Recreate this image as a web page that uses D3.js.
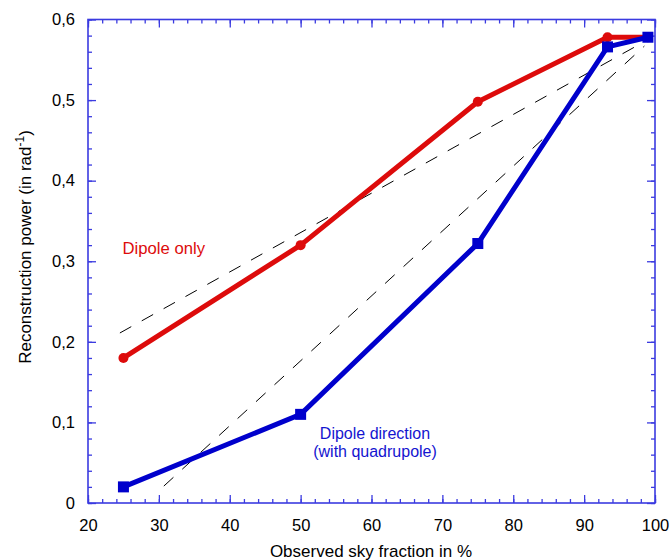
<!DOCTYPE html>
<html>
<head>
<meta charset="utf-8">
<script src="https://cdn.jsdelivr.net/npm/d3@7"></script>
<style>
  html, body { margin: 0; padding: 0; background: #fff; }
  svg { display: block; font-family: "Liberation Sans", Arial, Helvetica, sans-serif; }
</style>
</head>
<body>
<svg id="chart" width="670" height="560"></svg>
<script>
// ---- data ----
const skyFraction = [25, 50, 75, 93.3, 99];
const dipoleOnly = [0.18, 0.32, 0.498, 0.578, 0.578];
const dipoleDirection = [0.02, 0.11, 0.322, 0.566, 0.578];
const fitDipoleOnlyX = [24.5, 99];
const fitDipoleOnlyY = [0.211, 0.575];
const fitDirectionX = [30.7, 98.5];
const fitDirectionY = [0.021, 0.567];
const xTicks = [20, 30, 40, 50, 60, 70, 80, 90, 100];
const yTicks = [0, 0.1, 0.2, 0.3, 0.4, 0.5, 0.6];
const xMinorTicks = d3.range(20, 100.01, 2);
const yMinorTicks = d3.range(0, 0.6001, 0.02);

// ---- layout ----
const svg = d3.select("#chart");
const pL = 88, pR = 655, pT = 19.5, pB = 503;
const x = d3.scaleLinear().domain([20, 100]).range([pL, pR]);
const y = d3.scaleLinear().domain([0, 0.6]).range([pB, pT]);
const axisColor = "#3b3be0";
const red = "#dd0b0b";
const blue = "#0000cc";
const fmtY = d => d === 0 ? "0" : d.toFixed(1).replace(".", ",");

function styleAxis(g, showLabels, size) {
  g.select(".domain").remove();
  g.selectAll(".tick line").attr("stroke", axisColor).attr("stroke-width", 1.3);
  if (!showLabels) g.selectAll(".tick text").remove();
  else g.selectAll(".tick text").attr("fill", "#000").attr("font-size", size);
}

// minor ticks
svg.append("g").attr("transform", `translate(0,${pB})`)
  .call(d3.axisBottom(x).tickValues(xMinorTicks).tickSize(-4))
  .call(g => styleAxis(g, false));
svg.append("g").attr("transform", `translate(0,${pT})`)
  .call(d3.axisTop(x).tickValues(xMinorTicks).tickSize(-4))
  .call(g => styleAxis(g, false));
svg.append("g").attr("transform", `translate(${pL},0)`)
  .call(d3.axisLeft(y).tickValues(yMinorTicks).tickSize(-4))
  .call(g => styleAxis(g, false));
svg.append("g").attr("transform", `translate(${pR},0)`)
  .call(d3.axisRight(y).tickValues(yMinorTicks).tickSize(-4))
  .call(g => styleAxis(g, false));

// major ticks
svg.append("g").attr("transform", `translate(0,${pB})`)
  .call(d3.axisBottom(x).tickValues(xTicks).tickSize(-8).tickPadding(16).tickFormat(d3.format("d")))
  .call(g => styleAxis(g, true, "16.5px"));
svg.append("g").attr("transform", `translate(0,${pT})`)
  .call(d3.axisTop(x).tickValues(xTicks).tickSize(-8))
  .call(g => styleAxis(g, false));
svg.append("g").attr("transform", `translate(${pL},0)`)
  .call(d3.axisLeft(y).tickValues(yTicks).tickSize(-8).tickPadding(13).tickFormat(fmtY))
  .call(g => styleAxis(g, true, "16.5px"));
svg.append("g").attr("transform", `translate(${pR},0)`)
  .call(d3.axisRight(y).tickValues(yTicks).tickSize(-8))
  .call(g => styleAxis(g, false));

// frame
svg.append("rect")
  .attr("x", pL).attr("y", pT)
  .attr("width", pR - pL).attr("height", pB - pT)
  .attr("fill", "none").attr("stroke", axisColor).attr("stroke-width", 1.6);

// dashed fit lines
const line = d3.line().x(d => x(d[0])).y(d => y(d[1]));
[[fitDipoleOnlyX, fitDipoleOnlyY], [fitDirectionX, fitDirectionY]].forEach(([xs, ys]) => {
  svg.append("path")
    .attr("d", line(d3.zip(xs, ys)))
    .attr("fill", "none").attr("stroke", "#000").attr("stroke-width", 1)
    .attr("stroke-dasharray", "13,12");
});

// red series
const redData = d3.zip(skyFraction, dipoleOnly);
svg.append("path").attr("d", line(redData))
  .attr("fill", "none").attr("stroke", red).attr("stroke-width", 5)
  .attr("stroke-linejoin", "round");
svg.selectAll(".redpt").data(redData).enter().append("circle")
  .attr("cx", d => x(d[0])).attr("cy", d => y(d[1])).attr("r", 5)
  .attr("fill", red);

// blue series
const blueData = d3.zip(skyFraction, dipoleDirection);
svg.append("path").attr("d", line(blueData))
  .attr("fill", "none").attr("stroke", blue).attr("stroke-width", 5)
  .attr("stroke-linejoin", "miter");
svg.selectAll(".bluept").data(blueData).enter().append("rect")
  .attr("x", d => x(d[0]) - 5.5).attr("y", d => y(d[1]) - 5.5)
  .attr("width", 11).attr("height", 11)
  .attr("fill", blue);

// labels
svg.append("text").attr("x", 122.5).attr("y", 253.5)
  .attr("font-size", "16.7px").attr("fill", red).text("Dipole only");
svg.append("text").attr("x", 375).attr("y", 439).attr("text-anchor", "middle")
  .attr("font-size", "16px").attr("fill", "#1414d0").text("Dipole direction");
svg.append("text").attr("x", 375).attr("y", 457).attr("text-anchor", "middle")
  .attr("font-size", "16px").attr("fill", "#1414d0").text("(with quadrupole)");

// axis titles
svg.append("text").attr("x", 371).attr("y", 557).attr("text-anchor", "middle")
  .attr("font-size", "17px").attr("fill", "#000").text("Observed sky fraction in %");
const yt = svg.append("text")
  .attr("transform", "translate(31,247) rotate(-90)")
  .attr("text-anchor", "middle").attr("font-size", "17px").attr("fill", "#000");
yt.append("tspan").text("Reconstruction power (in rad");
yt.append("tspan").attr("dy", -7).attr("font-size", "12px").text("-1");
yt.append("tspan").attr("dy", 7).text(")");
</script>
</body>
</html>
